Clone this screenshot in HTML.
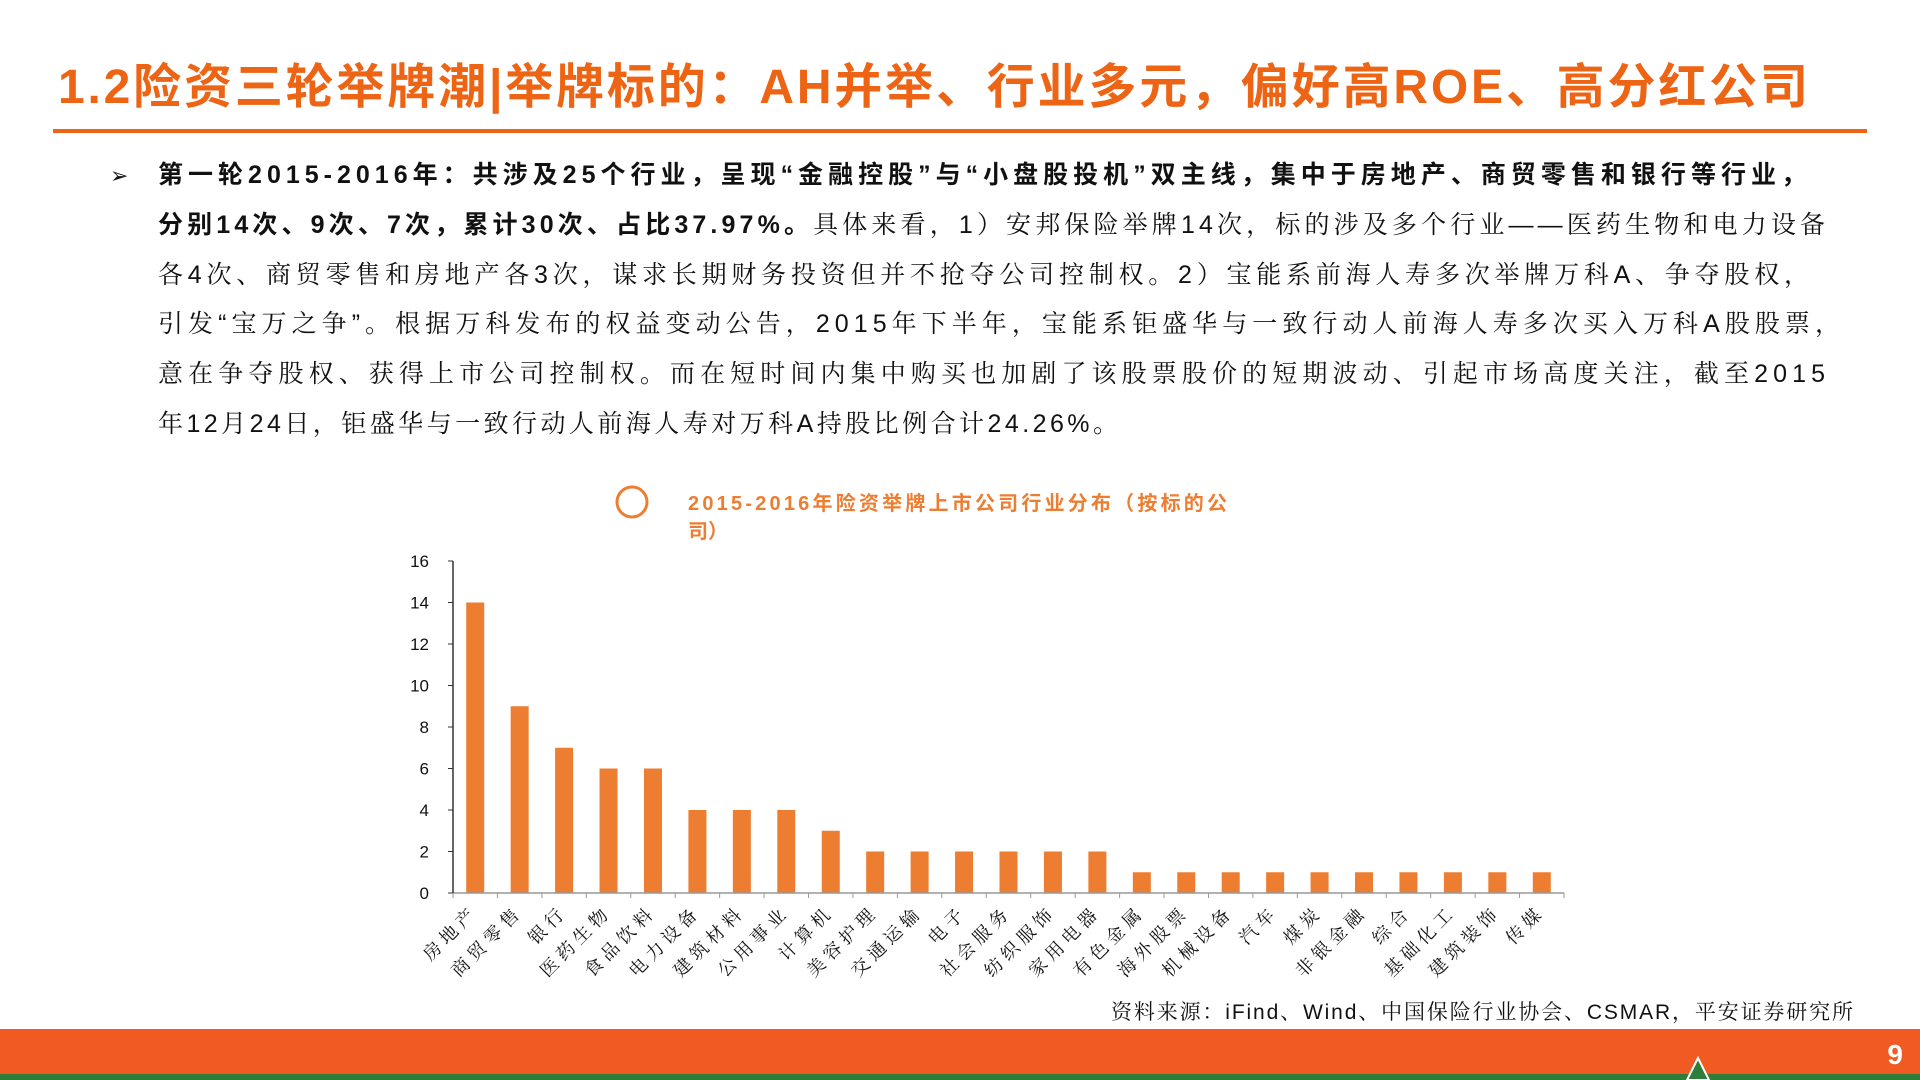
<!DOCTYPE html>
<html><head><meta charset="utf-8"><style>
html,body{margin:0;padding:0;background:#fff;}
svg{display:block;}
</style></head><body>
<svg width="1920" height="1080" viewBox="0 0 1920 1080" xmlns="http://www.w3.org/2000/svg">
<text x="58" y="103" textLength="1750" lengthAdjust="spacing" font-family="'Liberation Sans','Noto Sans CJK SC',sans-serif" font-weight="bold" font-size="48" fill="#EC6414">1.2险资三轮举牌潮|举牌标的：AH并举、行业多元，偏好高ROE、高分红公司</text>
<rect x="53" y="129" width="1814" height="4" fill="#EC6414"/>
<g font-size="25" fill="#111">
<text x="110" y="183" font-family="'DejaVu Sans',sans-serif" font-size="22">➢</text>
<text x="158" y="183" textLength="1648" lengthAdjust="spacing" font-family="'Liberation Sans','Noto Sans CJK SC',sans-serif" font-weight="bold">第一轮2015-2016年：共涉及25个行业，呈现“金融控股”与“小盘股投机”双主线，集中于房地产、商贸零售和银行等行业，</text>
<text x="158" y="233" textLength="1667" lengthAdjust="spacing" font-family="'Liberation Sans','Noto Serif CJK SC',serif"><tspan font-weight="bold" font-family="'Liberation Sans','Noto Sans CJK SC',sans-serif">分别14次、9次、7次，累计30次、占比37.97%。</tspan>具体来看，1）安邦保险举牌14次，标的涉及多个行业——医药生物和电力设备</text>
<text x="158" y="283" textLength="1651" lengthAdjust="spacing" font-family="'Liberation Sans','Noto Serif CJK SC',serif">各4次、商贸零售和房地产各3次，谋求长期财务投资但并不抢夺公司控制权。2）宝能系前海人寿多次举牌万科A、争夺股权，</text>
<text x="158" y="332" textLength="1682" lengthAdjust="spacing" font-family="'Liberation Sans','Noto Serif CJK SC',serif">引发“宝万之争”。根据万科发布的权益变动公告，2015年下半年，宝能系钜盛华与一致行动人前海人寿多次买入万科A股股票，</text>
<text x="158" y="382" textLength="1667" lengthAdjust="spacing" font-family="'Liberation Sans','Noto Serif CJK SC',serif">意在争夺股权、获得上市公司控制权。而在短时间内集中购买也加剧了该股票股价的短期波动、引起市场高度关注，截至2015</text>
<text x="158" y="432" textLength="960" lengthAdjust="spacing" font-family="'Liberation Sans','Noto Serif CJK SC',serif">年12月24日，钜盛华与一致行动人前海人寿对万科A持股比例合计24.26%。</text>
</g>
<g>
<circle cx="632" cy="502" r="15" fill="none" stroke="#ED7D31" stroke-width="3"/>
<text x="688" y="510" textLength="539" lengthAdjust="spacing" font-family="'Liberation Sans','Noto Sans CJK SC',sans-serif" font-weight="bold" font-size="20" fill="#ED7D31">2015-2016年险资举牌上市公司行业分布（按标的公</text>
<text x="688" y="538" font-family="'Liberation Sans','Noto Sans CJK SC',sans-serif" font-weight="bold" font-size="20" fill="#ED7D31">司）</text>
</g>
<g id="chart"></g>
<text x="1853" y="1019" text-anchor="end" textLength="742" lengthAdjust="spacing" font-family="'Liberation Sans','Noto Serif CJK SC',serif" font-size="21" fill="#111">资料来源：iFind、Wind、中国保险行业协会、CSMAR，平安证券研究所</text>
<rect x="0" y="1029" width="1920" height="45" fill="#F15A22"/>
<rect x="0" y="1074" width="1920" height="6" fill="#2E7D3A"/>
<path d="M1687 1080 L1698 1058 L1709 1080 Z" fill="#2E7D3A" stroke="#fff" stroke-width="2"/>
<text x="1903" y="1064" text-anchor="end" font-family="'Liberation Sans',sans-serif" font-weight="bold" font-size="28" fill="#fff">9</text>
</svg>
<script>
const categories = ["房地产","商贸零售","银行","医药生物","食品饮料","电力设备","建筑材料","公用事业","计算机","美容护理","交通运输","电子","社会服务","纺织服饰","家用电器","有色金属","海外股票","机械设备","汽车","煤炭","非银金融","综合","基础化工","建筑装饰","传媒"];
const values = [14,9,7,6,6,4,4,4,3,2,2,2,2,2,2,1,1,1,1,1,1,1,1,1,1];
const yTicks = [0,2,4,6,8,10,12,14,16];

const NS = "http://www.w3.org/2000/svg";
const g = document.getElementById("chart");
const X0 = 453, X1 = 1564, Y0 = 893, Y1 = 561, YMAX = 16;
const band = (X1 - X0) / categories.length;
const barW = 18;
function y(v){ return Y0 - (v / YMAX) * (Y0 - Y1); }
function xc(i){ return X0 + band * (i + 0.5); }
function mk(tag, attrs){ const e = document.createElementNS(NS, tag); for (const k in attrs) e.setAttribute(k, attrs[k]); g.appendChild(e); return e; }

yTicks.forEach(function(t){
  const tk = mk("line", {x1: X0 - 5, x2: X0, y1: y(t), y2: y(t), stroke: "#333", "stroke-width": 1});
  
  
  const lb = mk("text", {x: X0 - 24, y: y(t) + 6, "text-anchor": "end", "font-family": "'Liberation Sans',sans-serif", "font-size": 17, fill: "#111"});
  lb.textContent = t;
  
  
});
values.forEach(function(v, i){
  const b = mk("rect", {x: xc(i) - barW / 2, y: y(v), width: barW, height: Y0 - y(v), fill: "#ED7D31"});
  
  
});
for (let i = 0; i <= categories.length; i++) {
  const tk = mk("line", {x1: X0 + band * i, x2: X0 + band * i, y1: Y0, y2: Y0 + 5, stroke: "#999", "stroke-width": 1});
  
  
}
categories.forEach(function(c, i){
  const cx = xc(i) + 4, cy = Y0 + 20;
  const t = mk("text", {x: cx, y: cy, "text-anchor": "end", "letter-spacing": "5", transform: "rotate(-45 " + cx + " " + cy + ")", "font-family": "'Liberation Sans','Noto Serif CJK SC',serif", "font-size": 18, fill: "#111"});
  t.textContent = c;
  
  
});
const xa = mk("line", {x1: X0, x2: X1, y1: Y0, y2: Y0, stroke: "#999", "stroke-width": 1.5});


const ya = mk("line", {x1: X0, x2: X0, y1: Y1, y2: Y0, stroke: "#333", "stroke-width": 1.5});


</script>
</body></html>
